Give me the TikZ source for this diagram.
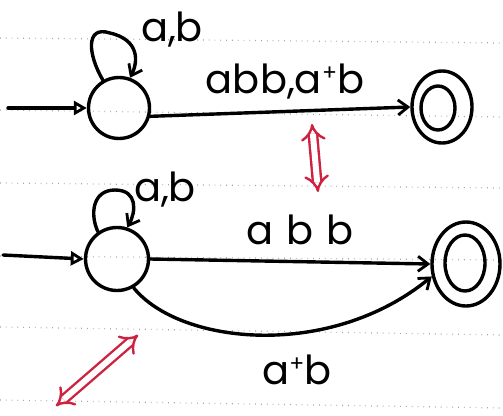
\documentclass[tikz,border=0pt]{standalone}
\usepackage{fontspec}
\setmainfont{Poppins}
\usetikzlibrary{arrows.meta,shapes.geometric}
\definecolor{penred}{RGB}{205,35,65}
\begin{document}
\begin{tikzpicture}[x=1pt,y=-1pt,
  ink/.style={line width=3.4pt,black,line cap=round,line join=round},
  tip/.style={-{Straight Barb[length=10pt,width=15pt,line width=2.8pt]}},
  inittip/.style={-{Triangle[open,length=13pt,width=14pt,line width=2.8pt]}},
  state/.style={circle,draw,line width=3.4pt,minimum size=61pt,inner sep=0pt},
  fin/.style={ellipse,draw,line width=3.4pt,inner sep=0pt},
  lbl/.style={font=\fontsize{40}{40}\selectfont,inner sep=0pt},
  redarr/.style={draw=penred,line width=2.4pt,double=white,double distance=6pt,{Implies}-{Implies}},
  ruled/.style={gray!70,line width=1.2pt,dash pattern=on 0.8pt off 5pt}]
\useasboundingbox (0,0) rectangle (503,415);
% ruled notebook lines
\draw[ruled] (0,38) -- (503,43);
\draw[ruled] (0,110) -- (503,117);
\draw[ruled] (0,183) -- (503,188);
\draw[ruled] (0,256) -- (503,260);
\draw[ruled] (0,327) -- (503,335);
\draw[ruled] (0,400) -- (503,408);

% ---------- top automaton ----------
\node[state] (s1) at (119,108) {};
\node[fin,minimum width=60pt,minimum height=72pt] (f1o) at (442,107) {};
\node[fin,minimum width=34pt,minimum height=44pt] (f1i) at (438,108) {};
\coordinate (in1) at (8,108);
\draw[ink,inittip] (in1) -- (s1.west);
\draw[ink,tip] (s1.120) .. controls (88,55) and (85,25) .. (110,33)
   .. controls (140,40) and (138,62) .. (s1.70);
\node[lbl] (l1) at (172,30) {a,b};
\node[lbl] (l2) at (285,82) {abb,a\raisebox{13pt}{\fontsize{22}{22}\selectfont +}b};
\draw[ink,tip] (s1.-15) -- (f1o.west);
\coordinate (r1a) at (312,124);
\coordinate (r1b) at (318,192);
\draw[redarr] (r1a) -- (r1b);

% ---------- bottom automaton ----------
\node[state,minimum size=63pt] (s2) at (117,259) {};
\node[fin,minimum width=68pt,minimum height=84pt] (f2o) at (466,264) {};
\node[fin,minimum width=40pt,minimum height=56pt] (f2i) at (465,263) {};
\coordinate (in2) at (3,255);
\draw[ink,inittip] (in2) -- (s2.west);
\draw[ink,tip] (s2.125) .. controls (90,215) and (92,190) .. (115,190)
   .. controls (138,190) and (136,212) .. (s2.72);
\node[lbl] (l3) at (165,190) {a,b};
\draw[ink,tip] (s2.east) -- (f2o.west);
\node[lbl] (l4) at (300,230) {a\,\,b\,\,b};
\draw[ink,tip] (s2.-60) .. controls (180,345) and (330,360) .. (f2o.200);
\node[lbl] (l5) at (297,370) {a\raisebox{13pt}{\fontsize{22}{22}\selectfont +}b};
\coordinate (r2a) at (56,406);
\coordinate (r2b) at (138,335);
\draw[redarr] (r2a) -- (r2b);
\end{tikzpicture}
\end{document}
